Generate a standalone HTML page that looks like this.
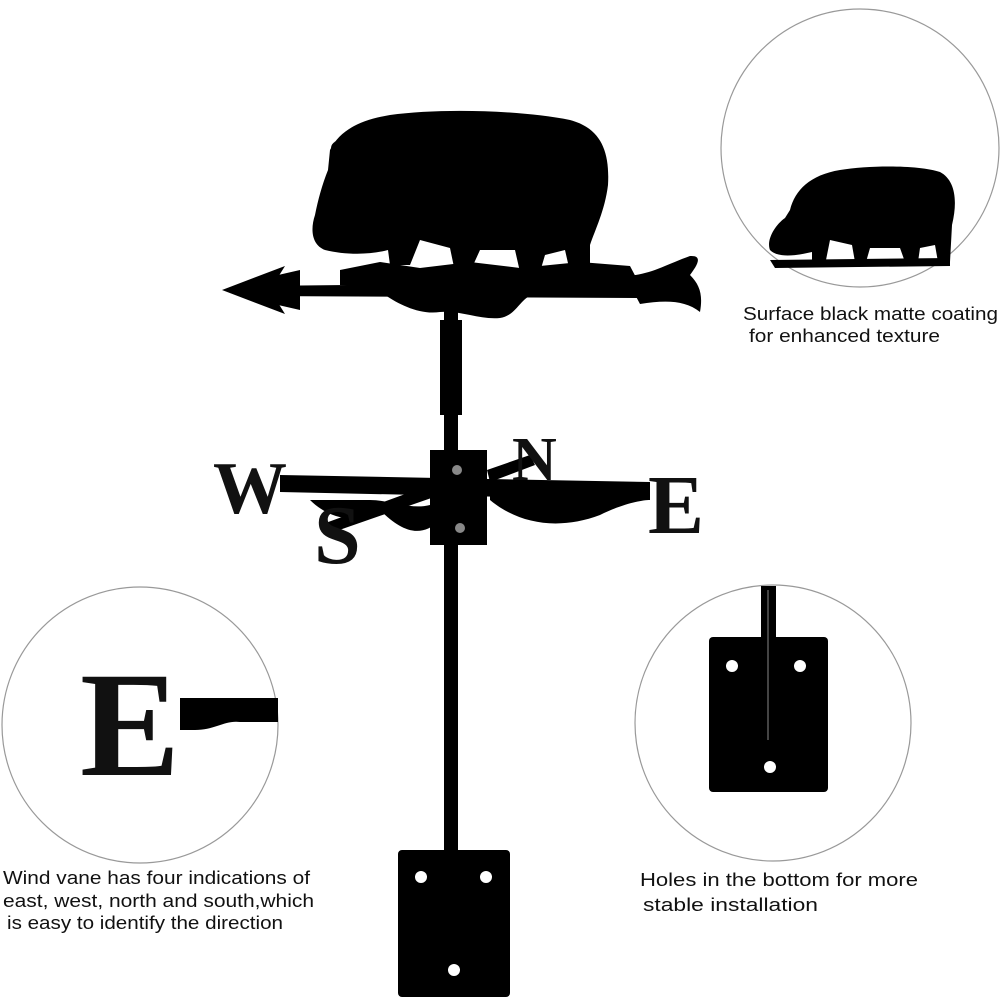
<!DOCTYPE html>
<html><head><meta charset="utf-8"><style>
html,body{margin:0;padding:0;background:#fff;width:1000px;height:1000px;overflow:hidden}
svg{display:block}
text{font-family:"Liberation Sans",sans-serif;fill:#111}
</style></head><body>
<svg width="1000" height="1000" viewBox="0 0 1000 1000" xmlns="http://www.w3.org/2000/svg">
<g fill="#000">
<path d="M330,150 C340,130 360,120 390,115 C440,108 520,110 570,120 C600,128 610,150 608,185 C605,210 595,230 590,245 L590,272 L570,272 L565,250 L545,255 L540,272 L520,272 L515,250 L480,250 L470,272 L455,272 L450,248 L420,240 L410,265 L390,265 L388,250 C370,255 345,255 325,250 C312,245 310,230 315,215 C318,200 322,185 328,170 Z"/>
<ellipse cx="345" cy="148" rx="14" ry="9"/>
<path d="M250,286 L640,282 L640,298 L250,296 Z"/>
<path d="M340,270 L380,262 L420,268 L470,262 L520,268 L580,262 L630,266 L640,285 L340,285 Z"/>
<path d="M385,295 C400,305 420,315 440,312 C460,310 480,320 500,318 C515,316 520,300 530,296 Z"/>
<path d="M222,290 L285,266 L270,290 L285,314 Z"/>
<path d="M265,278 L300,270 L300,310 L265,302 Z"/>
<path d="M625,276 C650,275 665,265 690,256 C705,255 695,268 690,275 C700,285 703,295 700,312 C685,300 665,300 640,304 Z"/>
</g>
<rect x="440" y="320" width="22" height="95" fill="#000"/>
<rect x="444" y="300" width="14" height="555" fill="#000"/>
<g fill="#000">
<path d="M280,475 L650,482 L650,500 L280,492 Z"/>
<path d="M320,525 L430,485 L440,495 L325,535 Z"/>
<path d="M487,470 L530,455 L535,465 L490,482 Z"/>
<path d="M310,500 C330,520 360,525 380,510 C400,530 420,540 440,520 L430,505 C410,510 390,500 370,500 Z"/>
<path d="M490,500 C520,525 560,530 600,515 C620,505 640,500 650,500 L640,495 L490,492 Z"/>
<rect x="430" y="450" width="57" height="95"/>
</g>
<circle cx="457" cy="470" r="5" fill="#888"/>
<circle cx="460" cy="528" r="5" fill="#888"/>
<text x="213" y="513" font-weight="bold" font-size="74" style="font-family:'Liberation Serif',serif">W</text>
<text x="648" y="533" font-weight="bold" font-size="84" style="font-family:'Liberation Serif',serif">E</text>
<text x="512" y="480" font-weight="bold" font-size="62" style="font-family:'Liberation Serif',serif">N</text>
<text x="314" y="563" font-weight="bold" font-size="84" style="font-family:'Liberation Serif',serif">S</text>
<rect x="398" y="850" width="112" height="147" rx="4" fill="#000"/>
<circle cx="421" cy="877" r="6" fill="#fff"/>
<circle cx="486" cy="877" r="6" fill="#fff"/>
<circle cx="454" cy="970" r="6" fill="#fff"/>

<circle cx="860" cy="148" r="139" fill="none" stroke="#999" stroke-width="1.2"/>
<g fill="#000">
<path d="M790,210 C795,190 810,175 840,170 C870,165 920,165 940,172 C955,180 958,200 952,225 L950,262 L938,262 L935,245 L920,248 L918,262 L905,262 L900,248 L870,248 L866,262 L855,262 L852,245 L830,240 L826,260 L812,260 L812,252 C795,256 778,258 770,250 C766,240 775,225 785,218 Z"/>
<path d="M770,260 L950,258 L950,266 L775,268 Z"/>
</g>
<text x="743" y="320" font-size="18" textLength="255" lengthAdjust="spacingAndGlyphs">Surface black matte coating</text>
<text x="749" y="342" font-size="18" textLength="191" lengthAdjust="spacingAndGlyphs">for enhanced texture</text>

<circle cx="140" cy="725" r="138" fill="none" stroke="#999" stroke-width="1.2"/>
<text x="80" y="775" font-size="150" font-weight="bold" style="font-family:'Liberation Serif',serif">E</text>
<path d="M180,698 L278,698 L278,722 L240,722 C225,720 215,730 195,730 L180,730 Z" fill="#000"/>
<text x="3" y="884" font-size="18" textLength="307" lengthAdjust="spacingAndGlyphs">Wind vane has four indications of</text>
<text x="3" y="907" font-size="18" textLength="311" lengthAdjust="spacingAndGlyphs">east, west, north and south,which</text>
<text x="7" y="929" font-size="18" textLength="276" lengthAdjust="spacingAndGlyphs">is easy to identify the direction</text>

<circle cx="773" cy="723" r="138" fill="none" stroke="#999" stroke-width="1.2"/>
<rect x="709" y="637" width="119" height="155" rx="4" fill="#000"/>
<rect x="761" y="586" width="15" height="156" fill="#000"/>
<line x1="768" y1="590" x2="768" y2="740" stroke="#444" stroke-width="2"/>
<circle cx="732" cy="666" r="6" fill="#fff"/>
<circle cx="800" cy="666" r="6" fill="#fff"/>
<circle cx="770" cy="767" r="6" fill="#fff"/>
<text x="640" y="886" font-size="18" textLength="278" lengthAdjust="spacingAndGlyphs">Holes in the bottom for more</text>
<text x="643" y="911" font-size="18" textLength="175" lengthAdjust="spacingAndGlyphs">stable installation</text>
</svg>
</body></html>
